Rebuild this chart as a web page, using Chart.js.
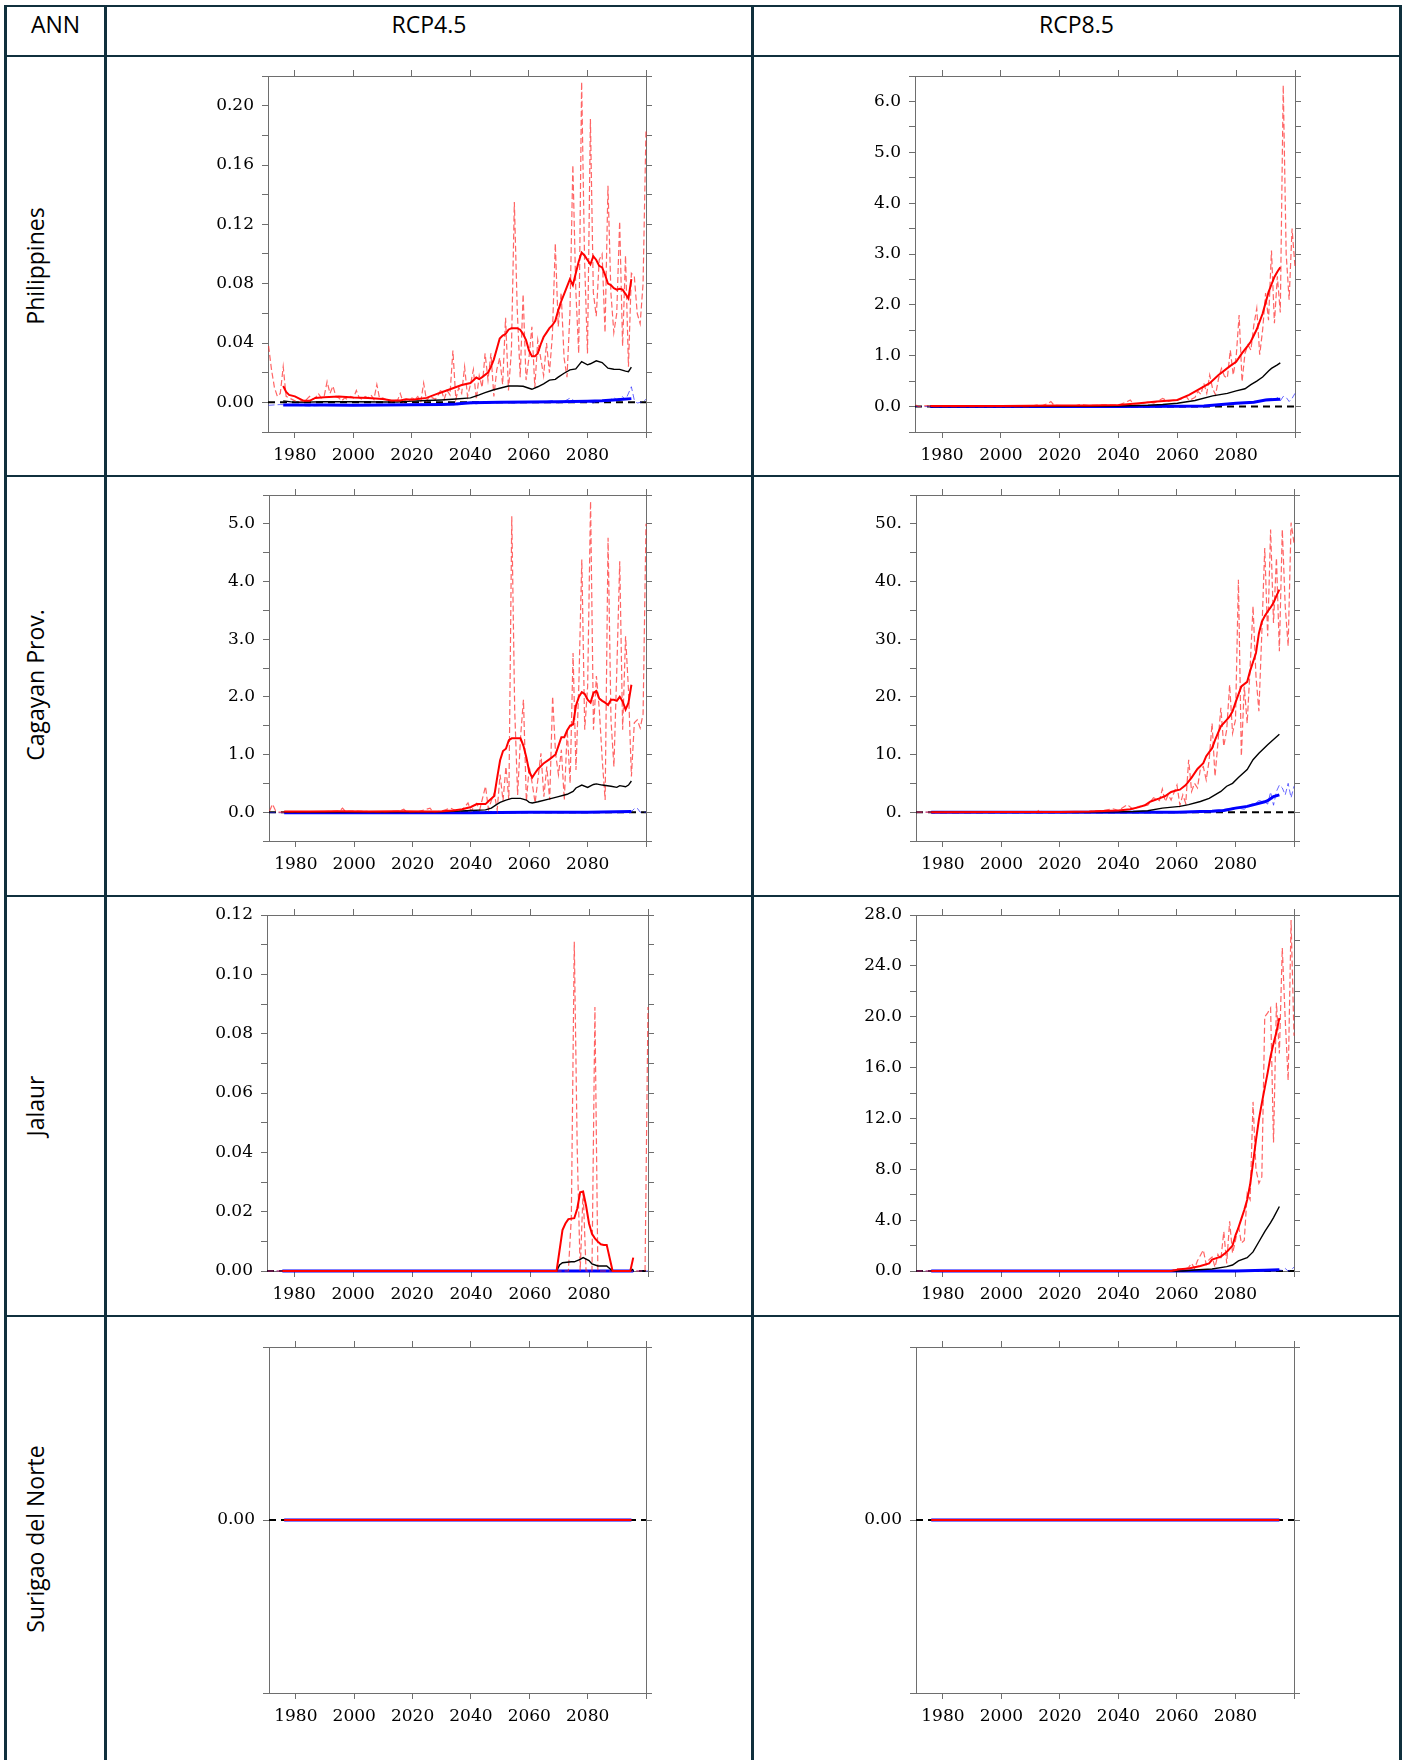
<!DOCTYPE html>
<html>
<head>
<meta charset="utf-8">
<script src="https://cdn.jsdelivr.net/npm/chart.js@4.4.1/dist/chart.umd.min.js"></script>
<style>
  html, body { margin: 0; padding: 0; background: #fff; }
  #page { position: relative; width: 1407px; height: 1760px; overflow: hidden; background: #fff; }
  .rule { position: absolute; background: #10303d; }
  .lbl { position: absolute; font-family: "Open Sans", sans-serif; font-size: 23px; line-height: 23px;
         color: #000; white-space: nowrap; transform: translate(-50%, -50%); }
  .rot { transform: translate(-50%, -50%) rotate(-90deg); }
  canvas { position: absolute; }
</style>
</head>
<body>
<div id="page"></div>
<script>
// ---------------- table text ----------------
const columnTitles = ['ANN', 'RCP4.5', 'RCP8.5'];
const rowTitles = ['Philippines', 'Cagayan Prov.', 'Jalaur', 'Surigao del Norte'];

// ---------------- shared x axis ----------------
const X_MIN = 1970.8, X_MAX = 2100;
const yearTicks = [1980, 2000, 2020, 2040, 2060, 2080, 2100];
const yearLabels = ['1980', '2000', '2020', '2040', '2060', '2080', ''];

// ---------------- Philippines, RCP4.5 ----------------
const phl45RedAnnualStart = 1971;
const phl45RedAnnual = [
  .038,.022,.010,.004,.006,.024,.004,.003,.002,.001,
  0,.001,0,.002,.004,.002,.003,.006,.003,.004,
  .014,.006,.011,.004,.003,.001,.003,.002,.004,.003,
  .008,.003,.002,.004,.003,.005,.002,.012,.002,.003,
  .002,.001,0,.002,.001,.006,0,.002,.001,.003,
  .002,.004,0,.013,.001,.004,.003,.002,.005,.009,
  .002,.008,.005,.035,.002,.010,.006,.024,.004,.012,
  .022,.002,.018,.010,.033,.015,.033,.004,.022,.030,
  .012,.057,.008,.035,.135,.062,.017,.073,.015,.030,
  .051,.010,.042,.030,.018,.040,.020,.045,.107,.051,
  .074,.030,.017,.060,.160,.076,.033,.216,.096,.033,
  .191,.074,.058,.096,.100,.047,.146,.074,.047,.060,
  .122,.038,.099,.024,.087,.085,.060,.053,.080,.184
];
const phl45RedMean = [[1976,.011],[1977,.007],[1978,.005],[1980,.004],[1982,.002],[1983,.001],[1985,.001],[1987,.003],[1990,.0035],[1995,.004],[2000,.0033],[2005,.003],[2010,.0022],[2013,.0012],[2016,.0012],[2018,.002],[2020,.0018],[2025,.003],[2029,.006],[2034,.0095],[2037,.0117],[2040,.013],[2042,.0167],[2043,.0156],[2044,.017],[2046,.020],[2047,.024],[2048,.029],[2049,.036],[2050,.043],[2051,.045],[2052,.046],[2053,.049],[2054,.050],[2056,.050],[2057,.049],[2058,.046],[2059,.042],[2060,.035],[2061,.031],[2062,.031],[2063,.033],[2064,.039],[2065,.044],[2066,.047],[2067,.050],[2068,.052],[2069,.055],[2070,.062],[2071,.068],[2072,.073],[2073,.078],[2074,.083],[2075,.079],[2076,.087],[2077,.095],[2078,.101],[2079,.099],[2080,.096],[2081,.093],[2082,.0985],[2083,.096],[2084,.092],[2085,.091],[2086,.086],[2087,.080],[2088,.079],[2089,.077],[2090,.076],[2091,.0765],[2092,.076],[2093,.073],[2094,.070],[2095,.083]];
const phl45BlackMean = [[1976,.001],[1980,0],[1990,.0004],[2000,.0004],[2010,.0002],[2015,.0002],[2020,.0008],[2025,.0012],[2030,.0016],[2035,.0022],[2040,.003],[2043,.005],[2045,.0065],[2048,.0085],[2050,.0095],[2053,.011],[2056,.011],[2058,.0108],[2060,.0095],[2061,.0088],[2063,.0105],[2065,.0125],[2067,.015],[2069,.0155],[2070,.017],[2072,.0196],[2074,.0219],[2076,.0225],[2078,.0275],[2080,.0253],[2081,.026],[2083,.028],[2085,.0268],[2087,.023],[2089,.0223],[2091,.0222],[2093,.021],[2094,.0207],[2095,.0237]];
const phl45BlueMean = [[1976,-.0018],[1990,-.0018],[2000,-.0019],[2010,-.0018],[2020,-.0017],[2030,-.0015],[2035,-.0012],[2040,-.0003],[2050,0],[2060,.0002],[2070,.0004],[2080,.0008],[2085,.001],[2090,.0017],[2095,.0025]];
const phl45BlueAnnual = [[1971,-.002],[1975,-.0015],[1980,-.002],[1985,-.0025],[1990,-.002],[1995,-.0022],[2000,-.0018],[2005,-.0022],[2010,-.0018],[2015,-.002],[2020,-.0016],[2025,-.002],[2030,-.0015],[2035,-.0018],[2038,-.0008],[2042,-.001],[2045,0],[2050,.0002],[2055,-.0004],[2060,.0003],[2065,.0002],[2068,.0012],[2070,-.0003],[2072,.0006],[2074,.0028],[2076,.0004],[2079,.001],[2082,-.0004],[2084,.0012],[2087,.0005],[2089,.0032],[2090,.0016],[2092,.0038],[2093,.0016],[2095,.0105],[2096,.0015],[2097,-.0005],[2099,.0005],[2100,.002]];

// ---------------- Philippines, RCP8.5 ----------------
const phl85RedAnnual = [[1971,.03],[1972,0],[1975,.02],[1976,0],[2010,0],[2012,.03],[2014,.02],[2016,.06],[2017,.1],[2018,.03],[2020,.02],[2025,.01],[2027,.04],[2030,.02],[2035,.03],[2040,.03],[2043,.1],[2044,.13],[2045,.05],[2048,.06],[2050,.09],[2052,.07],[2055,.16],[2057,.1],[2059,.13],[2061,.14],[2063,.2],[2064,.12],[2066,.18],[2067,.3],[2068,.24],[2069,.46],[2070,.26],[2071,.62],[2072,.35],[2073,.23],[2074,.55],[2075,.75],[2076,.6],[2077,.56],[2078,1.11],[2079,.62],[2080,.98],[2081,1.8],[2082,.49],[2083,1.05],[2084,1.21],[2085,1.11],[2086,1.6],[2087,1.93],[2088,1.02],[2089,1.51],[2090,2.23],[2091,1.7],[2092,3.07],[2093,1.64],[2094,2.56],[2095,1.85],[2096,6.32],[2097,3.0],[2098,2.1],[2099,3.5],[2100,2.75]];
const phl85RedMean = [[1976,.01],[1990,.01],[2000,.01],[2010,.015],[2020,.02],[2030,.02],[2040,.03],[2047,.065],[2053,.1],[2060,.13],[2064,.23],[2067,.33],[2071,.46],[2074,.62],[2078,.80],[2080,.88],[2082,1.05],[2084,1.2],[2085,1.28],[2087,1.52],[2089,1.83],[2091,2.25],[2092,2.4],[2093,2.55],[2094,2.65],[2095,2.74]];
const phl85BlackMean = [[1976,0],[2030,.005],[2040,.01],[2050,.025],[2055,.04],[2060,.065],[2066,.12],[2072,.21],[2077,.26],[2080,.31],[2083,.35],[2085,.43],[2087,.50],[2089,.58],[2091,.70],[2092,.75],[2094,.82],[2095,.86]];
const phl85BlueMean = [[1976,0],[2040,0],[2060,.005],[2069,.013],[2075,.04],[2080,.065],[2086,.085],[2090,.13],[2093,.14],[2095,.145]];
const phl85BlueAnnual = [[1971,0],[2050,0],[2060,.01],[2070,.02],[2075,.05],[2080,.06],[2085,.08],[2088,.1],[2090,.14],[2092,.16],[2093,.12],[2094,.18],[2095,.11],[2096,.2],[2097,.18],[2098,.1],[2099,.16],[2100,.26]];

// ---------------- Cagayan Prov., RCP4.5 ----------------
const cag45RedAnnual = [[1971,.02],[1972,.14],[1973,.03],[1974,0],[1980,0],[1985,.01],[1990,.01],[1995,.02],[1996,.07],[1997,.01],[2000,.02],[2005,.01],[2010,0],[2015,.02],[2017,.05],[2018,0],[2022,.01],[2026,.07],[2027,0],[2030,.02],[2033,.07],[2035,.02],[2037,.04],[2039,.16],[2040,.02],[2042,.15],[2043,.04],[2045,.45],[2046,.05],[2047,.2],[2048,.33],[2049,.04],[2050,.65],[2051,.2],[2052,.79],[2053,.21],[2054,5.13],[2055,1.78],[2056,.3],[2057,1.3],[2058,1.95],[2059,.19],[2060,.79],[2061,.5],[2062,.16],[2064,1.02],[2065,.27],[2066,.79],[2067,.21],[2068,2.01],[2069,1.02],[2070,.65],[2071,1.08],[2072,.21],[2073,1.43],[2074,.5],[2075,2.76],[2076,.73],[2077,2.24],[2078,4.38],[2079,1.43],[2080,2.18],[2081,5.39],[2082,1.43],[2083,2.36],[2084,1.78],[2085,.91],[2086,.21],[2087,4.76],[2088,1.6],[2089,.79],[2090,2.47],[2091,4.35],[2092,1.43],[2093,3.05],[2094,2.12],[2095,.62],[2096,1.55],[2097,1.6],[2098,1.46],[2099,1.7],[2100,5.0]];
const cag45RedMean = [[1976,.01],[1985,.01],[1995,.015],[2005,.01],[2015,.015],[2025,.01],[2030,.015],[2034,.03],[2037,.05],[2040,.09],[2042,.14],[2045,.14],[2046,.19],[2048,.28],[2049,.6],[2050,.9],[2051,1.06],[2052,1.1],[2053,1.25],[2054,1.28],[2057,1.28],[2058,1.15],[2059,.95],[2060,.7],[2061,.6],[2062,.68],[2063,.75],[2065,.85],[2067,.92],[2069,1.0],[2070,1.15],[2071,1.3],[2072,1.3],[2073,1.42],[2074,1.5],[2075,1.52],[2076,1.85],[2077,2.0],[2078,2.08],[2079,2.05],[2080,1.95],[2081,1.9],[2082,2.07],[2083,2.1],[2084,1.97],[2085,1.93],[2086,1.9],[2087,1.86],[2088,1.95],[2089,1.95],[2090,1.93],[2091,2.0],[2092,1.92],[2093,1.78],[2094,1.9],[2095,2.21]];
const cag45BlackMean = [[1976,0],[2030,.005],[2040,.03],[2045,.04],[2047,.07],[2049,.14],[2050,.17],[2052,.21],[2054,.24],[2057,.24],[2059,.21],[2060,.17],[2061,.16],[2063,.18],[2067,.23],[2070,.27],[2073,.31],[2075,.36],[2076,.42],[2078,.47],[2080,.43],[2082,.48],[2083,.49],[2085,.47],[2088,.45],[2090,.43],[2091,.46],[2093,.44],[2094,.47],[2095,.54]];
const cag45BlueMean = [[1976,-.01],[2040,-.01],[2060,0],[2080,0],[2095,.01]];
const cag45BlueAnnual = [[1971,-.01],[2090,0],[2095,.01],[2096,.06],[2097,.07],[2098,0],[2100,0]];

// ---------------- Cagayan Prov., RCP8.5 ----------------
const cag85RedAnnual = [[1971,0],[2012,0],[2013,.4],[2014,0],[2030,.1],[2035,.3],[2038,.6],[2040,.3],[2043,1.3],[2045,.5],[2047,1.0],[2050,1.2],[2052,2.5],[2054,2.0],[2055,4.0],[2056,1.85],[2057,3.0],[2058,2.1],[2060,4.7],[2061,1.2],[2062,3.0],[2063,1.5],[2064,9.1],[2065,3.6],[2066,5.0],[2067,4.2],[2068,7.5],[2069,7.9],[2070,5.6],[2071,9.0],[2072,15.4],[2073,6.2],[2074,12],[2075,18.1],[2076,11.4],[2077,14.3],[2078,22.1],[2079,13.7],[2080,16],[2081,40.3],[2082,9.7],[2083,21.8],[2084,15.4],[2085,25],[2086,35.7],[2087,23.6],[2088,17.5],[2089,31.1],[2090,45.8],[2091,30.5],[2092,49.0],[2093,32.8],[2094,44.1],[2095,27.9],[2096,49.0],[2097,35.7],[2098,28.8],[2099,50.2],[2100,46.7]];
const cag85RedMean = [[1976,0],[2000,.01],[2020,.05],[2030,.1],[2040,.3],[2044,.5],[2047,.87],[2049,1.2],[2051,1.85],[2054,2.4],[2056,2.8],[2058,3.5],[2060,3.8],[2061,3.9],[2063,4.7],[2065,6.0],[2067,7.5],[2069,8.5],[2070,9.7],[2072,11.1],[2073,12.5],[2075,14.9],[2077,16.0],[2078,16.6],[2079,17.5],[2080,19.0],[2082,21.8],[2084,22.6],[2085,24.5],[2087,27.6],[2088,31.0],[2089,33.0],[2090,34.0],[2091,34.8],[2092,35.5],[2093,36.3],[2094,37.5],[2095,38.6]];
const cag85BlackMean = [[1976,0],[2040,.05],[2045,.12],[2050,.25],[2055,.7],[2061,1.0],[2064,1.3],[2068,1.85],[2071,2.4],[2075,3.6],[2077,4.5],[2079,5.0],[2081,6.0],[2084,7.4],[2086,9.1],[2088,10.2],[2091,11.7],[2093,12.6],[2095,13.5]];
const cag85BlueMean = [[1976,0],[2060,0],[2068,.1],[2072,.15],[2076,.3],[2080,.7],[2084,1.0],[2087,1.4],[2090,1.8],[2091,2.0],[2093,2.7],[2095,3.0]];
const cag85BlueAnnual = [[1971,0],[2060,0],[2070,.2],[2075,.4],[2078,.6],[2080,.8],[2083,.5],[2085,1.3],[2087,1.6],[2088,2.0],[2090,1.8],[2091,1.4],[2092,3.5],[2093,1.2],[2094,3.6],[2095,4.7],[2096,4.2],[2097,3.0],[2098,5.0],[2099,2.5],[2100,4.5]];

// ---------------- Jalaur, RCP4.5 ----------------
const jal45RedAnnual = [[1971,0],[2073,0],[2074,.018],[2075,.111],[2076,.041],[2077,0],[2078,.027],[2079,0],[2081,0],[2082,.089],[2083,0],[2099,0],[2100,.089]];
const jal45RedMean = [[1976,0],[2069,0],[2071,.0138],[2072,.016],[2073,.0175],[2075,.0178],[2076,.021],[2077,.0265],[2078,.0268],[2079,.022],[2080,.016],[2081,.0125],[2082,.011],[2083,.0099],[2084,.009],[2085,.0088],[2086,.0088],[2088,0],[2094,0],[2095,.0045]];
const jal45BlackMean = [[1976,0],[2069,0],[2070,.002],[2071,.0028],[2074,.0031],[2075,.0031],[2077,.0039],[2078,.0045],[2080,.0035],[2081,.0024],[2083,.0017],[2086,.0017],[2088,0],[2094,0],[2095,.0006]];
const jal45BlueMean = [[1976,0],[2095,0]];
const jal45BlueAnnual = [[1971,0],[2100,0]];

// ---------------- Jalaur, RCP8.5 ----------------
const jal85RedAnnual = [[1971,0],[2058,0],[2060,.2],[2062,.1],[2064,.3],[2065,.6],[2066,.2],[2067,.8],[2069,1.65],[2070,.5],[2071,.9],[2072,1.1],[2073,.3],[2074,1.3],[2075,.9],[2076,3.1],[2077,.6],[2078,3.9],[2079,1.4],[2080,2.4],[2081,3.6],[2082,2.2],[2083,2.4],[2084,6.1],[2085,5.6],[2086,13.3],[2087,8.0],[2088,6.9],[2089,7.4],[2090,20.0],[2091,20.3],[2092,20.7],[2093,10.1],[2094,21.1],[2095,17.1],[2096,25.4],[2097,19.8],[2098,15.0],[2099,27.6],[2100,18.5]];
const jal85RedMean = [[1976,0],[2058,0],[2061,.13],[2064,.2],[2068,.4],[2071,.6],[2072,.9],[2075,1.13],[2077,1.5],[2079,2.0],[2080,2.8],[2081,3.4],[2082,4.1],[2083,4.8],[2084,5.6],[2085,6.8],[2086,8.5],[2087,10.3],[2088,11.9],[2089,13.2],[2090,14.4],[2091,15.6],[2092,16.9],[2093,17.9],[2094,18.8],[2095,19.9]];
const jal85BlackMean = [[1976,0],[2062,0],[2066,.08],[2072,.16],[2077,.34],[2079,.47],[2081,.8],[2084,1.05],[2086,1.5],[2088,2.3],[2090,3.1],[2092,3.8],[2093,4.2],[2095,5.07]];
const jal85BlueMean = [[1976,0],[2080,0],[2090,.05],[2095,.1]];
const jal85BlueAnnual = [[1971,0],[2090,0],[2094,.1],[2096,.05],[2097,.2],[2098,0],[2099,.1],[2100,.3]];

// ---------------- Surigao del Norte (both scenarios) ----------------
const sur45Mean = [[1976,0],[2095,0]];
const sur85Mean = [[1976,0],[2095,0]];

// ---------------- y axes: [min, max, minor step, labelled step, decimals] ----------------
const phl45Axis = [-0.02, 0.22, 0.02, 0.04, 2];
const phl85Axis = [-0.5, 6.5, 0.5, 1, 1];
const cag45Axis = [-0.5, 5.5, 0.5, 1, 1];
const cag85Axis = [-5, 55, 5, 10, 'dot'];
const jal45Axis = [0, 0.12, 0.01, 0.02, 2];
const jal85Axis = [0, 28, 2, 4, 1];
const surAxis   = [-1, 1, 1, 2, 2];

// ---------------- drawing ----------------
const page = document.getElementById('page');
const FRAME = '#6e6e6e';

function rule(x, y, w, h) {
  const d = document.createElement('div');
  d.className = 'rule';
  Object.assign(d.style, { left: x + 'px', top: y + 'px', width: w + 'px', height: h + 'px' });
  page.appendChild(d);
}
function label(text, cx, cy, rotated) {
  const d = document.createElement('div');
  d.className = rotated ? 'lbl rot' : 'lbl';
  d.textContent = text;
  d.style.left = cx + 'px';
  d.style.top = cy + 'px';
  page.appendChild(d);
}

// table rules
[4, 104, 751, 1399].forEach(x => rule(x, 5, 3, 1760));
[5, 55, 475, 895, 1315].forEach(y => rule(4, y, 1398, 2));

label(columnTitles[0], 55.5, 24);
label(columnTitles[1], 429, 24);
label(columnTitles[2], 1076.5, 24);
const rowCentres = [266, 685, 1106, 1539];
rowTitles.forEach((t, i) => label(t, 35, rowCentres[i], true));

const pts = arr => arr.map(p => ({ x: p[0], y: p[1] }));
const annualPts = (start, vals) => vals.map((v, i) => ({ x: start + i, y: v }));

const STYLE = {
  zero:     { borderColor: '#000000', borderWidth: 2, borderDash: [7, 5] },
  redAnn:   { borderColor: 'rgba(255,40,40,0.72)', borderWidth: 1.2, borderDash: [6, 3] },
  redMean:  { borderColor: '#ff0000', borderWidth: 2 },
  blackMean:{ borderColor: '#000000', borderWidth: 1.4 },
  blueMean: { borderColor: '#0000ff', borderWidth: 3 },
  blueAnn:  { borderColor: 'rgba(40,40,255,0.7)', borderWidth: 1, borderDash: [6, 3] }
};
// lower order = drawn on top
const ORDER = { redMean: 0, blackMean: 1, redAnn: 2, blueMean: 3, blueAnn: 4, zero: 5 };

function dataset(kind, data) {
  return Object.assign({ data, order: ORDER[kind], pointRadius: 0, tension: 0, fill: false, clip: false }, STYLE[kind]);
}

const LEFT_W = 80, RIGHT_W = 20, TOP_H = 20, BOTTOM_H = 50;
const TICK_FONT = { family: '"DejaVu Serif", serif', size: 17 };

function makePanel(box, axis, series) {
  const [L, R, T, B] = box;
  const w = R - L + LEFT_W + RIGHT_W;
  const h = B - T + TOP_H + BOTTOM_H;
  const c = document.createElement('canvas');
  c.width = w; c.height = h;
  Object.assign(c.style, { left: (L - LEFT_W) + 'px', top: (T - TOP_H) + 'px', width: w + 'px', height: h + 'px' });
  page.appendChild(c);

  const [yMin, yMax, yStep, yMajor, dec] = axis;
  const yTickValues = [];
  for (let k = 0; yMin + k * yStep <= yMax + yStep * 1e-6; k++) yTickValues.push(+(yMin + k * yStep).toFixed(6));
  const isMajor = v => Math.abs(v / yMajor - Math.round(v / yMajor)) < 1e-6;
  const fmt = v => {
    if (!isMajor(v)) return '';
    if (dec === 'dot') return Math.round(v) + '.';
    return (Math.abs(v) < 1e-9 ? 0 : v).toFixed(dec);
  };

  const grid = { drawOnChartArea: false, drawTicks: true, tickLength: 6, color: FRAME, lineWidth: 1 };
  const border = { display: true, color: FRAME, width: 1 };
  const xTicks = s => { s.ticks = yearTicks.map(v => ({ value: v })); };
  const yTicks = s => { s.ticks = yTickValues.map(v => ({ value: v })); };

  const datasets = [dataset('zero', [{ x: X_MIN, y: 0 }, { x: X_MAX, y: 0 }])];
  Object.keys(series).forEach(k => datasets.push(dataset(k, series[k])));

  new Chart(c, {
    type: 'line',
    data: { datasets },
    options: {
      responsive: false, animation: false, devicePixelRatio: 1, events: [],
      layout: { padding: 0 },
      plugins: { legend: { display: false }, tooltip: { enabled: false } },
      scales: {
        x: { type: 'linear', position: 'bottom', min: X_MIN, max: X_MAX, grid, border,
             afterBuildTicks: xTicks, afterFit: s => { s.height = BOTTOM_H; },
             ticks: { autoSkip: false, maxRotation: 0, padding: 7, color: '#000', font: TICK_FONT,
                      callback: (v, i) => yearLabels[i] } },
        x2: { type: 'linear', position: 'top', min: X_MIN, max: X_MAX, grid, border,
              afterBuildTicks: xTicks, afterFit: s => { s.height = TOP_H; },
              ticks: { autoSkip: false, maxRotation: 0, font: TICK_FONT, callback: () => '' } },
        y: { type: 'linear', position: 'left', min: yMin, max: yMax, grid, border,
             afterBuildTicks: yTicks, afterFit: s => { s.width = LEFT_W; },
             ticks: { autoSkip: false, padding: 8, color: '#000', font: TICK_FONT, callback: v => fmt(v) } },
        y2: { type: 'linear', position: 'right', min: yMin, max: yMax, grid, border,
              afterBuildTicks: yTicks, afterFit: s => { s.width = RIGHT_W; },
              ticks: { autoSkip: false, font: TICK_FONT, callback: () => '' } }
      }
    }
  });
}

makePanel([268, 646, 76, 432], phl45Axis, {
  redMean: pts(phl45RedMean), blackMean: pts(phl45BlackMean),
  redAnn: annualPts(phl45RedAnnualStart, phl45RedAnnual),
  blueMean: pts(phl45BlueMean), blueAnn: pts(phl45BlueAnnual) });
makePanel([915, 1295, 76, 432], phl85Axis, {
  redMean: pts(phl85RedMean), blackMean: pts(phl85BlackMean), redAnn: pts(phl85RedAnnual),
  blueMean: pts(phl85BlueMean), blueAnn: pts(phl85BlueAnnual) });
makePanel([269, 646, 495, 841], cag45Axis, {
  redMean: pts(cag45RedMean), blackMean: pts(cag45BlackMean), redAnn: pts(cag45RedAnnual),
  blueMean: pts(cag45BlueMean), blueAnn: pts(cag45BlueAnnual) });
makePanel([916, 1294, 495, 841], cag85Axis, {
  redMean: pts(cag85RedMean), blackMean: pts(cag85BlackMean), redAnn: pts(cag85RedAnnual),
  blueMean: pts(cag85BlueMean), blueAnn: pts(cag85BlueAnnual) });
makePanel([267, 648, 915, 1271], jal45Axis, {
  redMean: pts(jal45RedMean), blackMean: pts(jal45BlackMean), redAnn: pts(jal45RedAnnual),
  blueMean: pts(jal45BlueMean), blueAnn: pts(jal45BlueAnnual) });
makePanel([916, 1294, 915, 1271], jal85Axis, {
  redMean: pts(jal85RedMean), blackMean: pts(jal85BlackMean), redAnn: pts(jal85RedAnnual),
  blueMean: pts(jal85BlueMean), blueAnn: pts(jal85BlueAnnual) });
makePanel([269, 646, 1347, 1693], surAxis, {
  redMean: pts(sur45Mean), blackMean: pts(sur45Mean), blueMean: pts(sur45Mean) });
makePanel([916, 1294, 1347, 1693], surAxis, {
  redMean: pts(sur85Mean), blackMean: pts(sur85Mean), blueMean: pts(sur85Mean) });
</script>
</body>
</html>
